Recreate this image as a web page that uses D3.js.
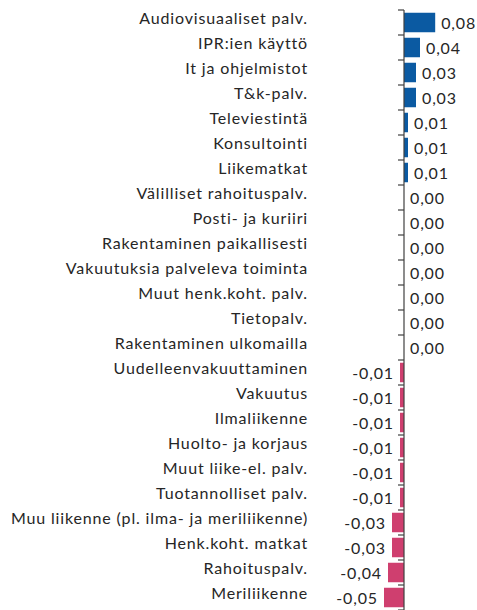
<!DOCTYPE html>
<html>
<head>
<meta charset="utf-8">
<script src="https://cdn.jsdelivr.net/npm/d3@7"></script>
<style>
  body { margin: 0; background: #fff; }
  text { font-family: Lato, "Open Sans", sans-serif; fill: #262626; }
</style>
</head>
<body>
<svg id="chart" width="477" height="610"></svg>
<script>
// data
const categories = [
  "Audiovisuaaliset palv.",
  "IPR:ien käyttö",
  "It ja ohjelmistot",
  "T&k-palv.",
  "Televiestintä",
  "Konsultointi",
  "Liikematkat",
  "Välilliset rahoituspalv.",
  "Posti- ja kuriiri",
  "Rakentaminen paikallisesti",
  "Vakuutuksia palveleva toiminta",
  "Muut henk.koht. palv.",
  "Tietopalv.",
  "Rakentaminen ulkomailla",
  "Uudelleenvakuuttaminen",
  "Vakuutus",
  "Ilmaliikenne",
  "Huolto- ja korjaus",
  "Muut liike-el. palv.",
  "Tuotannolliset palv.",
  "Muu liikenne (pl. ilma- ja meriliikenne)",
  "Henk.koht. matkat",
  "Rahoituspalv.",
  "Meriliikenne"
];
const values = [
  0.078, 0.04, 0.03, 0.03, 0.01, 0.01, 0.01,
  0, 0, 0, 0, 0, 0, 0,
  -0.01, -0.01, -0.01, -0.01, -0.01, -0.01,
  -0.03, -0.03, -0.04, -0.05
];

const data = categories.map((c, i) => ({ name: c, value: values[i] }));

const svg = d3.select("#chart");

const posColor = "#0b5aa2";
const negColor = "#cf3f6f";

const fiLocale = d3.formatLocale({ decimal: ",", thousands: " ", grouping: [3], currency: ["", "€"], minus: "-" });
const fmt = fiLocale.format(".2f");

const x = d3.scaleLinear()
  .domain([-0.06, 0.09])
  .range([380, 440]);

const y = d3.scaleBand()
  .domain(categories)
  .range([10, 610])
  .paddingInner(0.22)
  .paddingOuter(0.11);

// --------------------------------------------------
// BARS
// --------------------------------------------------

svg.append("g")
  .attr("class", "bars")
  .selectAll("rect")
  .data(data)
  .enter()
  .append("rect")
  .attr("x", d => x(Math.min(0, d.value)))
  .attr("y", d => y(d.name))
  .attr("width", d => Math.abs(x(d.value) - x(0)))
  .attr("height", y.bandwidth())
  .attr("fill", d => d.value >= 0 ? posColor : negColor);

// --------------------------------------------------
// AXIS (zero line with ticks at band edges)
// --------------------------------------------------

const axis = svg.append("g").attr("class", "axis");
const x0 = x(0);

axis.append("line")
  .attr("x1", x0).attr("x2", x0)
  .attr("y1", y.range()[0]).attr("y2", y.range()[1])
  .attr("stroke", "#404040")
  .attr("stroke-width", 1.2);

const edges = categories.map(c => y(c) - y.step() * y.paddingInner() / 2).concat([y.range()[1]]);

axis.selectAll("line.tick")
  .data(edges)
  .enter()
  .append("line")
  .attr("class", "tick")
  .attr("x1", x0 - 6).attr("x2", x0)
  .attr("y1", d => d).attr("y2", d => d)
  .attr("stroke", "#404040")
  .attr("stroke-width", 1.2);

// --------------------------------------------------
// CATEGORY LABELS
// --------------------------------------------------

svg.append("g")
  .attr("class", "cat-labels")
  .selectAll("text")
  .data(data)
  .enter()
  .append("text")
  .attr("x", 308)
  .attr("y", d => y(d.name) + y.bandwidth() / 2 - 4)
  .attr("dy", "0.35em")
  .attr("text-anchor", "end")
  .style("font-size", "16px")
  .style("letter-spacing", "0.85px")
  .text(d => d.name);

// --------------------------------------------------
// VALUE LABELS
// --------------------------------------------------

svg.append("g")
  .attr("class", "val-labels")
  .selectAll("text")
  .data(data)
  .enter()
  .append("text")
  .attr("x", d => d.value >= 0 ? x(d.value) + 6 : x(d.value) - 6)
  .attr("y", d => y(d.name) + y.bandwidth() / 2 + 1)
  .attr("dy", "0.35em")
  .attr("text-anchor", d => d.value >= 0 ? "start" : "end")
  .style("font-size", "16px")
  .style("letter-spacing", "0.85px")
  .text(d => fmt(d.value));
</script>
</body>
</html>
